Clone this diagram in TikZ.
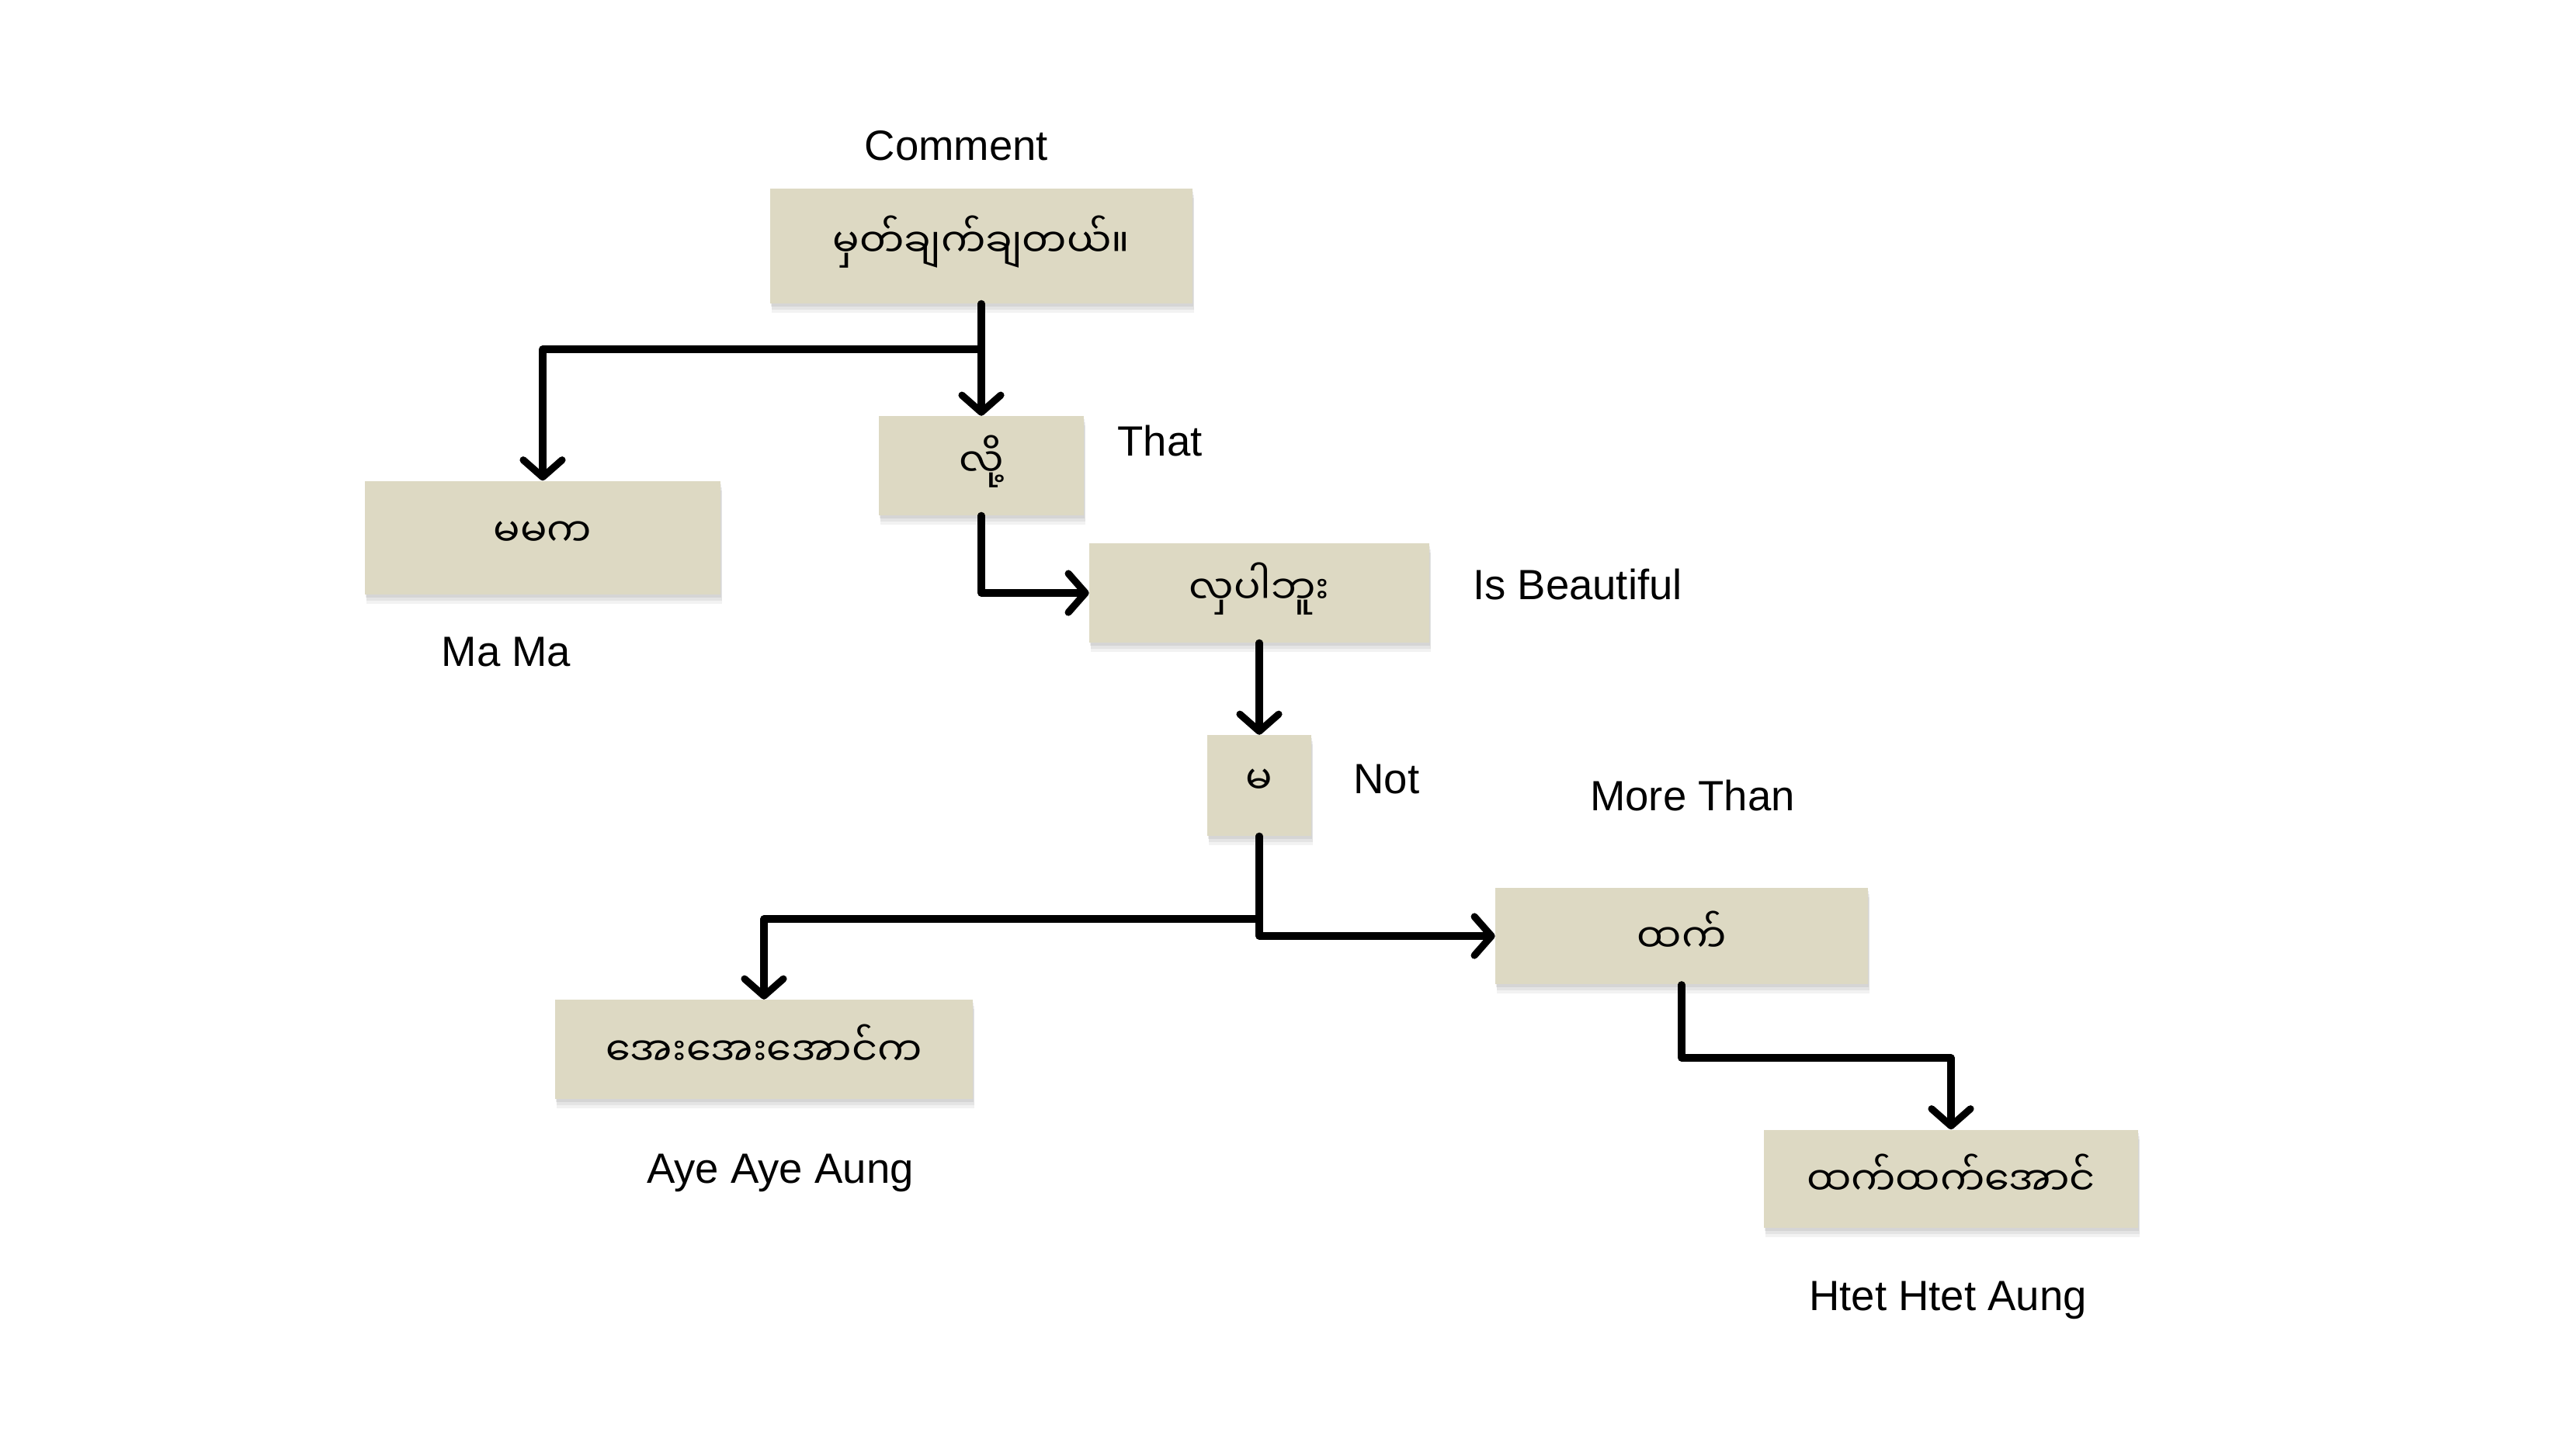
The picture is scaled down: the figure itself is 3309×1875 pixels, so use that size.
\documentclass[tikz,border=0pt]{standalone}
\usepackage{fontspec}
\setmainfont{Liberation Sans}
\newfontfamily\mmfont[Script=Myanmar]{Noto Sans Myanmar UI}
\usetikzlibrary{arrows.meta,shadows}

\definecolor{boxfill}{RGB}{221,217,195}
\newcommand{\mmword}[1]{\raisebox{0.5mm}[\height][\depth]{#1}}

\tikzset{
	wordbox/.style={fill=boxfill, inner sep=0pt, font=\mmfont\fontsize{14.5}{18}\selectfont,
		drop shadow={opacity=0.10, shadow xshift=0.2mm, shadow yshift=-1.2mm},
		drop shadow={opacity=0.12, shadow xshift=0.2mm, shadow yshift=-0.8mm},
		drop shadow={opacity=0.15, shadow xshift=0.1mm, shadow yshift=-0.4mm}},
	gloss/.style={font=\fontsize{15.5}{18}\selectfont},
	link/.style={line width=2.6pt, line cap=round, line join=round,
		-{Straight Barb[length=2.2mm, width=5mm, line width=2.6pt, round]}}
}

\begin{document}
\begin{tikzpicture}[x=0.01cm, y=-0.01cm]
			\useasboundingbox (0,0) rectangle (3309,1875);
			\node[wordbox, minimum width=5.44cm, minimum height=1.47cm] (comment) at (1264,317) {\mmword{မှတ်ချက်ချတယ်။}};
			\node[wordbox, minimum width=4.58cm, minimum height=1.46cm] (mama) at (699,693) {\mmword{မမက}};
			\node[wordbox, minimum width=2.64cm, minimum height=1.27cm] (that) at (1264,600) {\mmword{လို့}};
			\node[wordbox, minimum width=4.37cm, minimum height=1.27cm] (beautiful) at (1622,764) {\mmword{လှပါဘူး}};
			\node[wordbox, minimum width=1.33cm, minimum height=1.29cm] (not) at (1622,1012) {\mmword{မ}};
			\node[wordbox, minimum width=5.38cm, minimum height=1.27cm] (aye) at (984,1352) {\mmword{အေးအေးအောင်က}};
			\node[wordbox, minimum width=4.79cm, minimum height=1.24cm] (than) at (2166,1206) {\mmword{ထက်}};
			\node[wordbox, minimum width=4.81cm, minimum height=1.26cm] (htet) at (2513,1519) {\mmword{ထက်ထက်အောင်}};

			\node[gloss] (commentgl) at (1232,188) {Comment};
			\node[gloss] (mamagl) at (652,840) {Ma Ma};
			\node[gloss] (thatgl) at (1494,568) {That};
			\node[gloss] (beautifulgl) at (2032,753) {Is Beautiful};
			\node[gloss] (notgl) at (1786,1004) {Not};
			\node[gloss] (thangl) at (2180,1025) {More Than};
			\node[gloss] (ayegl) at (1005,1511) {Aye Aye Aung};
			\node[gloss] (htetgl) at (2509,1675) {Htet Htet Aung};

			\coordinate (split1) at (1264,450);
			\coordinate (split2) at (1622,1184);
			\coordinate (bend3) at (2166,1363);

			\draw[link] (comment.south) -- (that.north);
			\draw[link] (split1) -| (mama.north);
			\draw[link] (that.south) |- (beautiful.west);
			\draw[link] (beautiful.south) -- (not.north);
			\draw[link] (not.south) |- (than.west);
			\draw[link] (split2) -| (aye.north);
			\draw[link] (than.south) -- (bend3) -| (htet.north);
\end{tikzpicture}
\end{document}
